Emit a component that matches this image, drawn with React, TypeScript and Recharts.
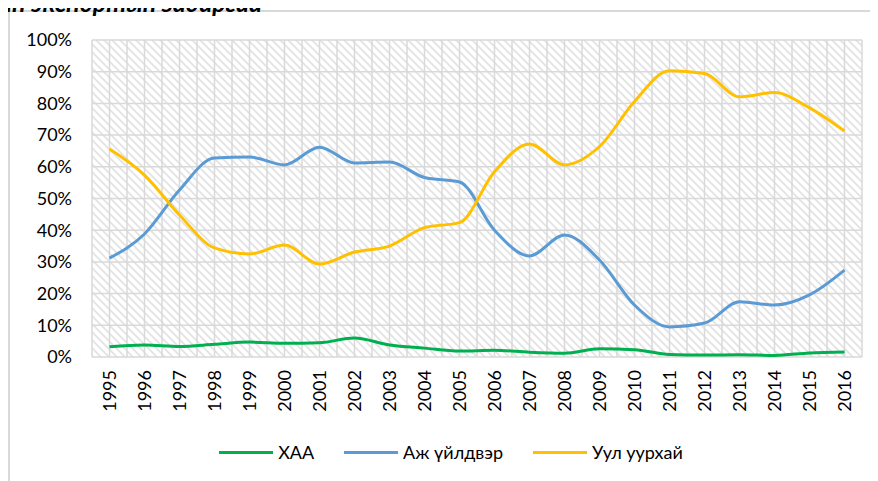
import React from "react";
import { LineChart, Line, XAxis, YAxis, CartesianGrid, Legend } from "recharts";

const years = [
  "1995", "1996", "1997", "1998", "1999", "2000", "2001", "2002", "2003", "2004", "2005",
  "2006", "2007", "2008", "2009", "2010", "2011", "2012", "2013", "2014", "2015", "2016",
];

// percent shares of exports
const xaa = [3.2, 3.8, 3.3, 4.0, 4.7, 4.3, 4.5, 6.0, 3.8, 2.8, 1.9, 2.1, 1.5, 1.2, 2.6, 2.3, 0.8, 0.6, 0.7, 0.5, 1.3, 1.6];
const ajUildver = [31.2, 38.8, 52.7, 62.8, 63.1, 60.6, 66.2, 61.2, 61.5, 56.6, 55.2, 40.0, 31.9, 38.5, 30.6, 16.4, 9.5, 10.7, 17.4, 16.4, 19.6, 27.4];
const uulUurhai = [65.6, 57.4, 44.8, 34.4, 32.5, 35.3, 29.3, 33.1, 35.0, 40.8, 42.4, 58.4, 67.2, 60.6, 66.4, 80.6, 90.3, 89.4, 82.1, 83.4, 78.6, 71.3];

const yTicks = [0, 10, 20, 30, 40, 50, 60, 70, 80, 90, 100];

const series = [
  { key: "xaa", name: "ХАА", color: "#00B050" },
  { key: "aj", name: "Аж үйлдвэр", color: "#5B9BD5" },
  { key: "uul", name: "Уул уурхай", color: "#FFC000" },
];

const data = years.map((year, i) => ({
  year,
  xaa: xaa[i],
  aj: ajUildver[i],
  uul: uulUurhai[i],
}));

const FONT = "Lato, 'Liberation Sans', sans-serif";

const YearTick = ({ x, y, payload }: any) => (
  <g transform={`translate(${x},${y})`}>
    <text
      x={-11}
      y={0}
      dy="0.35em"
      transform="rotate(-90)"
      textAnchor="end"
      fontFamily={FONT}
      fontSize={18}
      fill="#000"
    >
      {payload.value}
    </text>
  </g>
);

const LegendContent = () => (
  <div
    style={{
      display: "flex",
      justifyContent: "center",
      alignItems: "center",
      height: 24,
      paddingLeft: 46,
      fontFamily: FONT,
      fontSize: 18,
      color: "#000",
    }}
  >
    {series.map((s) => (
      <div key={s.key} style={{ display: "flex", alignItems: "center", marginRight: 30 }}>
        <div style={{ width: 54, height: 3, background: s.color, marginRight: 5 }} />
        <span>{s.name}</span>
      </div>
    ))}
  </div>
);

export default function App() {
  return (
    <div style={{ position: "relative", width: 870, height: 473, overflow: "visible" }}>
      <svg width={0} height={0} style={{ position: "absolute" }}>
        <defs>
          <pattern id="hatch" patternUnits="userSpaceOnUse" width={8} height={8}>
            <rect width={8} height={8} fill="#fff" />
            <path d="M-2,-2 L10,10 M-2,6 L2,10 M6,-2 L10,2" stroke="#E2E2E2" strokeWidth={1.6} />
          </pattern>
        </defs>
      </svg>
      <div
        style={{
          position: "absolute",
          left: 0,
          top: 2,
          width: 900,
          height: 520,
          border: "2px solid #D9D9D9",
          boxSizing: "border-box",
        }}
      />
      <div
        style={{
          position: "absolute",
          right: 616,
          top: -18,
          whiteSpace: "nowrap",
          fontFamily: FONT,
          fontWeight: 700,
          fontStyle: "italic",
          fontSize: 25,
          lineHeight: "25px",
          color: "#000",
        }}
      >
        Монголын экспортын задаргаа
      </div>
      <LineChart
        width={870}
        height={473}
        data={data}
        margin={{ top: 32, right: 16, left: 0, bottom: 17 }}
        style={{ position: "absolute", left: 0, top: 0 }}
      >
        <CartesianGrid
          stroke="#D9D9D9"
          strokeWidth={1.5}
          fill="url(#hatch)"
          fillOpacity={1}
          verticalCoordinatesGenerator={({ offset }: any) =>
            Array.from({ length: 45 }, (_, i) => offset.left + (i * offset.width) / 44)
          }
        />
        <XAxis
          dataKey="year"
          interval={0}
          axisLine={false}
          tickLine={false}
          tickSize={0}
          height={83}
          padding={{ left: 17.5, right: 17.5 }}
          tick={<YearTick />}
        />
        <YAxis
          domain={[0, 100]}
          ticks={yTicks}
          width={84}
          axisLine={false}
          tickLine={false}
          tickSize={0}
          tickMargin={20}
          tickFormatter={(v: number) => `${v}%`}
          tick={{ fontFamily: FONT, fontSize: 18, fill: "#000" }}
        />
        <Legend verticalAlign="bottom" content={<LegendContent />} wrapperStyle={{ left: 0, width: 870 }} />
        {series.map((s) => (
          <Line
            key={s.key}
            type="monotone"
            dataKey={s.key}
            name={s.name}
            stroke={s.color}
            strokeWidth={3}
            dot={false}
            activeDot={false}
            isAnimationActive={false}
          />
        ))}
      </LineChart>
    </div>
  );
}
